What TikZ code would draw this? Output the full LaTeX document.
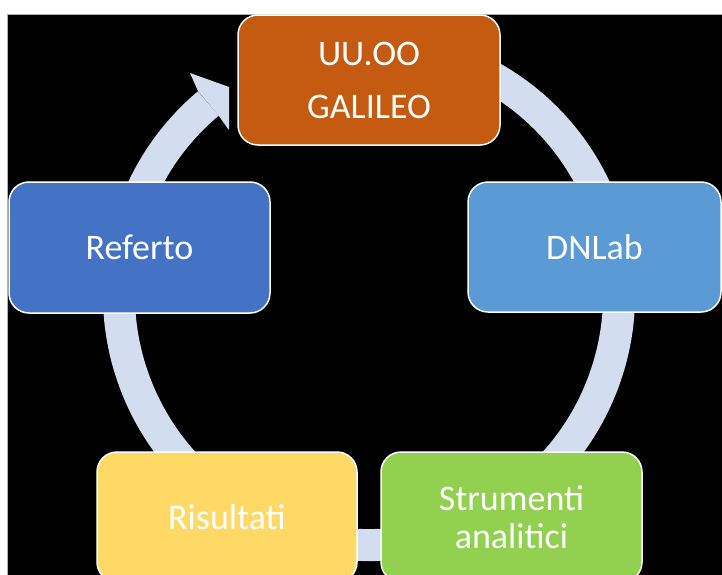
\documentclass[tikz,border=0pt]{standalone}
\usepackage{fontspec}
\setmainfont{Carlito}
\definecolor{ringc}{HTML}{D2DEEF}
\definecolor{orangec}{HTML}{C55A11}
\definecolor{skyc}{HTML}{5B9BD5}
\definecolor{greenc}{HTML}{92D050}
\definecolor{yellowc}{HTML}{FFD966}
\definecolor{bluec}{HTML}{4472C4}
\begin{document}
\begin{tikzpicture}[x=1pt,y=-1pt,
  box/.style={draw=white, line width=1.5pt, rounded corners=20pt,
    minimum width=262pt, minimum height=130pt, inner sep=0pt,
    text=white, align=center, font=\fontsize{36}{38}\selectfont},
  ring/.style={line width=32pt, draw=ringc}]
\useasboundingbox (0,0) rectangle (722,574);
% background
\fill[white] (0,0) rectangle (722,574);
\draw[fill=black, draw=gray!60, line width=0.6pt] (7,14) rectangle (723,575);
% ring with arrow
\coordinate (c) at (369,295);
\draw[ring] ([shift={(-70:250)}]c) arc[start angle=-70, end angle=230, radius=250];
\fill[ringc] (198,91) -- (190,73) -- (229,87) -- (229,130) -- (218.6,115.7) -- cycle;
% boxes
\node[box, fill=orangec, font=\fontsize{36}{53}\selectfont] (uu) at (369,80) {UU.OO\\GALILEO};
\node[box, fill=skyc, minimum width=253pt] (dn) at (594.5,247) {DNLab};
\node[box, fill=greenc, minimum width=261pt] (st) at (511.5,517) {Strumenti\\analitici};
\node[box, fill=yellowc, minimum width=260pt] (ri) at (227,517) {Risultati};
\node[box, fill=bluec, minimum width=261pt, minimum height=131pt] (re) at (139.5,247.5) {Referto};
\end{tikzpicture}
\end{document}
